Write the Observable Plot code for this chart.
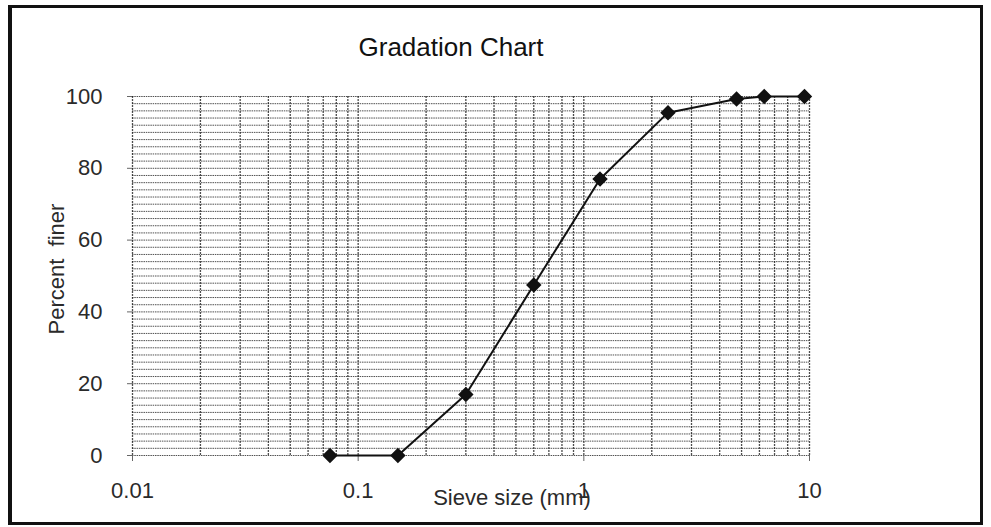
<!DOCTYPE html>
<html><head><meta charset="utf-8">
<script src="https://cdn.jsdelivr.net/npm/d3@7"></script>
<script src="https://cdn.jsdelivr.net/npm/@observablehq/plot@0.6"></script>
<style>
body{margin:0;background:#fff;}
#wrap{position:relative;width:991px;height:527px;overflow:hidden;background:#fff;}
#border{position:absolute;left:8px;top:5px;width:968px;height:514px;border:3px solid #111;border-left-width:4px;pointer-events:none;}
</style></head><body><div id="wrap"><div id="border"></div></div>
<script>
const sieveSizes = [0.075, 0.15, 0.3, 0.6, 1.18, 2.36, 4.75, 6.3, 9.5];
const percentFiner = [0, 0, 17, 47.5, 77, 95.5, 99.3, 100, 100];
const xTickValues = [0.01, 0.1, 1, 10];
const xTickLabels = ["0.01", "0.1", "1", "10"];
const yTickValues = [0, 20, 40, 60, 80, 100];
const titleText = "Gradation Chart";
const xLabel = "Sieve size (mm)";
const yLabel = "Percent  finer";

const data = sieveSizes.map((s, i) => ({size: s, pct: percentFiner[i]}));
const xMinor = [];
for (const dec of [0.01, 0.1, 1]) for (let k = 1; k <= 9; k++) xMinor.push(+(dec * k).toPrecision(3));
xMinor.push(10);
const yMinor = d3.range(0, 101, 2);

const narrow = "'Liberation Sans Narrow','Arial Narrow','Liberation Sans',Arial,sans-serif";
const regular = "'Liberation Sans',Arial,sans-serif";

const chart = Plot.plot({
  width: 991, height: 527,
  marginLeft: 132, marginRight: 182, marginTop: 96, marginBottom: 72,
  style: {fontFamily: narrow, fontSize: "22px", color: "#2a2a2a", background: "transparent"},
  x: {type: "log", domain: [0.01, 10]},
  y: {domain: [0, 100]},
  marks: [
    Plot.ruleY(yMinor, {stroke: "#333", strokeWidth: 1, strokeDasharray: "1.5,0.8", strokeOpacity: 0.85}),
    Plot.ruleX(xMinor, {stroke: "#222", strokeWidth: 1.3, strokeDasharray: "2,1", strokeOpacity: 0.8}),
    Plot.axisX({ticks: xTickValues, tickFormat: d => xTickLabels[xTickValues.indexOf(d)], tickSize: 6, tickPadding: 21, label: null, stroke: "#666", fontSize: 22}),
    Plot.axisY({ticks: yTickValues, tickSize: 5, tickPadding: 25, label: null, stroke: "#666", fontSize: 22}),
    Plot.line(data, {x: "size", y: "pct", stroke: "#111", strokeWidth: 2}),
    Plot.dot(data, {x: "size", y: "pct", symbol: "diamond2", fill: "#111", stroke: "#111", r: 6}),
    Plot.text([titleText], {text: d => d, frameAnchor: "top", lineAnchor: "middle", textAnchor: "middle", dx: -20, dy: -49, fontSize: 26, fontFamily: regular, fill: "#111"}),
    Plot.text([xLabel], {text: d => d, frameAnchor: "bottom", lineAnchor: "middle", textAnchor: "middle", dx: 41, dy: 42, fontSize: 22, fill: "#2a2a2a"}),
    Plot.text([yLabel], {text: d => d, frameAnchor: "left", lineAnchor: "middle", textAnchor: "middle", rotate: -90, dx: -76, dy: -7, fontSize: 22, fill: "#2a2a2a"})
  ]
});
chart.style.position = "absolute";
chart.style.left = "0px";
chart.style.top = "0px";
document.getElementById("wrap").prepend(chart);
</script>
</body></html>
